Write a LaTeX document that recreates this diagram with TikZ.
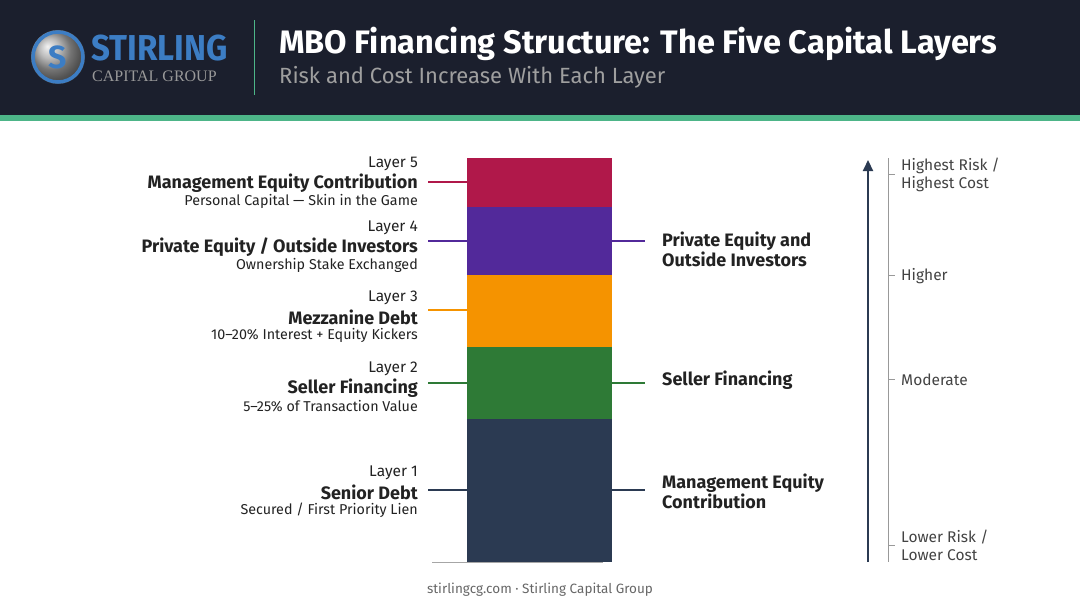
\documentclass[tikz,border=0pt]{standalone}
\usepackage{fontspec}
\setmainfont{Fira Sans}
\newfontfamily\logoserif{Liberation Serif}
\usetikzlibrary{arrows.meta}
\definecolor{headbg}{HTML}{1B1F2D}
\definecolor{stripe}{HTML}{4DB588}
\definecolor{logoblue}{HTML}{3C7DC4}
\definecolor{layerfive}{HTML}{B0184A}
\definecolor{layerfour}{HTML}{52299A}
\definecolor{layerthree}{HTML}{F59300}
\definecolor{layertwo}{HTML}{2E7A36}
\definecolor{layerone}{HTML}{2B3A52}
\definecolor{inkgray}{HTML}{222222}
\tikzset{
  layer/.style={draw=none, inner sep=0pt},
  leftlbl/.style={anchor=east, align=right, inner sep=0pt, text=inkgray},
  rightlbl/.style={anchor=west, align=left, inner sep=0pt, text=inkgray, font=\fontsize{18}{20}\selectfont\bfseries},
  scalelbl/.style={anchor=west, align=left, inner sep=0pt, text=inkgray!85, font=\fontsize{15.5}{18}\selectfont},
  tick/.style={line width=1.2pt}
}
\begin{document}
\begin{tikzpicture}[x=1pt,y=-1pt]
\useasboundingbox (0,0) rectangle (1080,603);

% header band
\fill[headbg] (0,0) rectangle (1080,115);
\fill[stripe] (0,115) rectangle (1080,121);
\shade[ball color=gray!70] (58,57) circle (27);
\draw[logoblue, line width=3.5pt] (58,57) circle (25);
\node[text=logoblue, font=\fontsize{32}{32}\selectfont\bfseries] (slogo) at (58,57) {S};
\node[anchor=west, inner sep=0pt, text=logoblue, font=\fontsize{36}{36}\selectfont\bfseries, xscale=0.92] (brand) at (91,48) {STIRLING};
\node[anchor=west, inner sep=0pt, text=gray!80, font=\logoserif\fontsize{16}{16}\selectfont] (group) at (92,76) {CAPITAL GROUP};
\draw[stripe, line width=1pt] (254,20) -- (254,95);
\node[anchor=west, inner sep=0pt, text=white, font=\fontsize{32.5}{32.5}\selectfont\bfseries] (title) at (279,44) {MBO Financing Structure: The Five Capital Layers};
\node[anchor=west, inner sep=0pt, text=gray!75, font=\fontsize{22}{22}\selectfont] (subtitle) at (279,77) {Risk and Cost Increase With Each Layer};

% stacked layers
\fill[layerone] (467,419) rectangle (612,562);
\fill[layertwo] (467,347) rectangle (612,419);
\fill[layerthree] (467,275) rectangle (612,347);
\fill[layerfour] (467,207) rectangle (612,275);
\fill[layerfive] (467,158) rectangle (612,207);
\draw[gray!70, line width=1pt] (432,562) -- (603,562);

% left labels
\foreach \yy/\num/\name/\note/\col in {
  182/5/{Management Equity Contribution}/{Personal Capital --- Skin in the Game}/layerfive,
  246/4/{Private Equity / Outside Investors}/{Ownership Stake Exchanged}/layerfour,
  316/3/{Mezzanine Debt}/{10--20\% Interest + Equity Kickers}/layerthree,
  387/2/{Seller Financing}/{5--25\% of Transaction Value}/layertwo,
  491/1/{Senior Debt}/{Secured / First Priority Lien}/layerone}{
  \node[leftlbl, font=\fontsize{15.5}{15.5}\selectfont] (num\num) at (418,\yy-18) {Layer \num};
  \node[leftlbl, font=\fontsize{18}{18}\selectfont\bfseries] (name\num) at (418,\yy+1) {\name};
  \node[leftlbl, font=\fontsize{14.3}{14.3}\selectfont] (note\num) at (418,\yy+19) {\note};
}
\draw[tick, layerfive] (428,182) -- (467,182);
\draw[tick, layerfour] (428,241) -- (467,241);
\draw[tick, layerthree] (428,310) -- (467,310);
\draw[tick, layertwo] (428,383) -- (467,383);
\draw[tick, layerone] (428,490) -- (467,490);

% right labels
\draw[tick, layerfour] (612,241) -- (645,241);
\draw[tick, layertwo] (612,383) -- (645,383);
\draw[tick, layerone] (612,490) -- (645,490);
\node[rightlbl] (peinv) at (662,249) {Private Equity and\\Outside Investors};
\node[rightlbl] (sellr) at (662,380) {Seller Financing};
\node[rightlbl] (mgmt) at (662,491) {Management Equity\\Contribution};

% risk scale
\coordinate (arrbot) at (868,562);
\coordinate (arrtop) at (868,160);
\draw[layerone, line width=2.2pt, -{Triangle[length=11pt,width=10pt]}] (arrbot) -- (arrtop);
\draw[gray!80, line width=1pt] (888,158) -- (888,562);
\foreach \yy in {174,275,379,545}
  \draw[gray!80, line width=1pt] (888,\yy) -- (895,\yy);
\node[scalelbl] (hi) at (901,175) {Highest Risk /\\Highest Cost};
\node[scalelbl] (hr) at (901,276) {Higher};
\node[scalelbl] (md) at (901,380) {Moderate};
\node[scalelbl] (lo) at (901,545) {Lower Risk /\\Lower Cost};

% footer
\node[text=gray!80!black, font=\fontsize{13.5}{13.5}\selectfont] (foot) at (540,590) {stirlingcg.com · Stirling Capital Group};
\end{tikzpicture}
\end{document}
